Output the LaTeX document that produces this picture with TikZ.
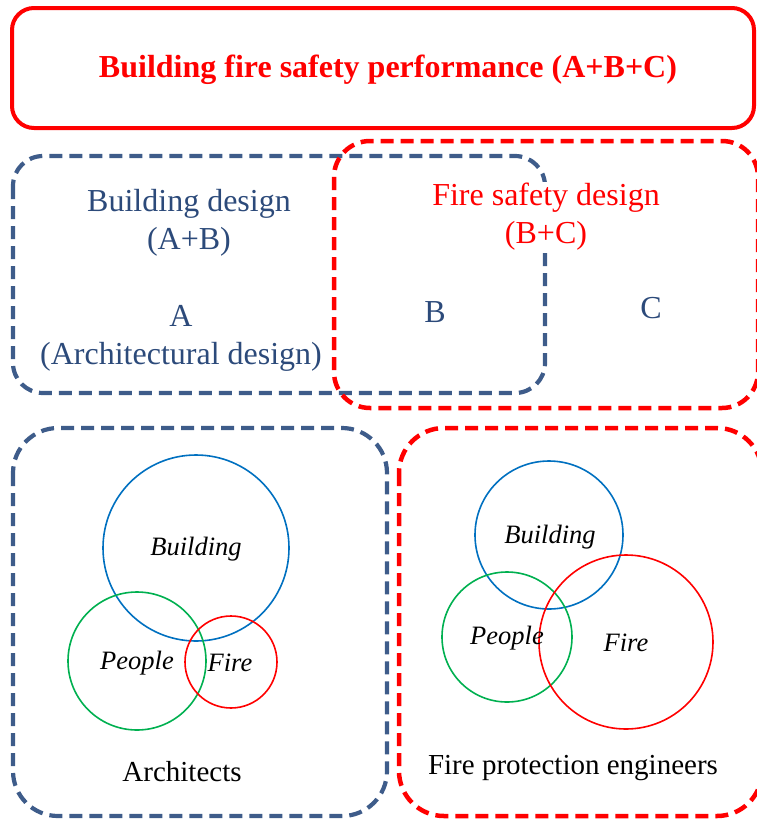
\documentclass[tikz,border=0pt]{standalone}
\usepackage{fontspec}
\setmainfont{Liberation Serif}
\definecolor{boxblue}{RGB}{62,92,138}
\definecolor{txtblue}{RGB}{44,74,122}
\definecolor{cblue}{RGB}{0,112,192}
\definecolor{cgreen}{RGB}{0,176,80}
\definecolor{cred}{RGB}{255,0,0}
\tikzset{
  bluedash/.style={draw=boxblue, line width=4.2, dash pattern=on 13 off 7},
  reddash/.style={draw=cred, line width=4.5, dash pattern=on 13 off 7},
  circ/.style={line width=1.6},
  dtext/.style={font=\fontsize{32}{38}\selectfont, text=txtblue, align=center, inner sep=1},
  ctext/.style={font=\fontsize{26.5}{30}\selectfont\itshape, text=black, inner sep=0},
  ltext/.style={font=\fontsize{29}{34}\selectfont, text=black, inner sep=0}
}
\begin{document}
\begin{tikzpicture}[x=1pt,y=-1pt]
\useasboundingbox (0,0) rectangle (756,820);
% top box
\draw[cred, line width=4, rounded corners=22] (12,8) rectangle (754,128);
\node[font=\fontsize{32}{38}\selectfont\bfseries, text=cred] (title) at (388,70) {Building fire safety performance (A+B+C)};
% design boxes
\draw[bluedash, rounded corners=30] (13,156) rectangle (545,393);
\draw[reddash, rounded corners=36] (334,141) rectangle (758,408);
\node[dtext] (bd) at (189,223) {Building design\\(A+B)};
\node[dtext, text=cred, fill=white] (fsd) at (546,217) {Fire safety design\\(B+C)};
\node[dtext] (a) at (181,338) {A\\(Architectural design)};
\node[dtext] (b) at (435,312) {B};
\node[dtext] (c) at (651,308) {C};
% bottom boxes
\draw[bluedash, rounded corners=45] (13,428) rectangle (387,816);
\draw[reddash, rounded corners=45] (399,428) rectangle (762,816);
% left circles
\draw[cblue, circ] (196,548) circle[radius=93];
\draw[cgreen, circ] (137,661) circle[radius=69];
\draw[cred, circ] (231,662) circle[radius=46];
\node[ctext] (lb) at (196,549) {Building};
\node[ctext] (lp) at (137,663) {People};
\node[ctext] (lf) at (230,663) {Fire};
\node[ltext] (arch) at (182,772) {Architects};
% right circles
\draw[cblue, circ] (549,535) circle[radius=74];
\draw[cgreen, circ] (507,637) circle[radius=65];
\draw[cred, circ] (626,642) circle[radius=87];
\node[ctext] (rb) at (550,537) {Building};
\node[ctext] (rp) at (507,638) {People};
\node[ctext] (rf) at (626,643) {Fire};
\node[ltext] (fpe) at (573,768) {Fire protection engineers};
\end{tikzpicture}
\end{document}
